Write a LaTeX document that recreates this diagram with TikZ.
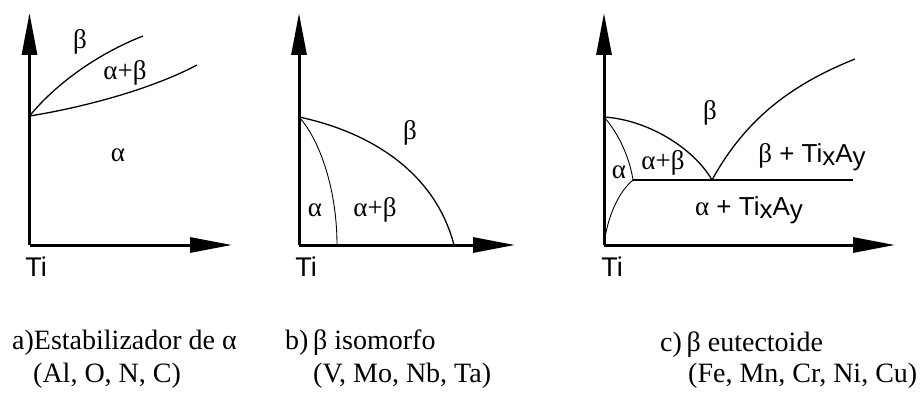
\documentclass[tikz,border=0pt]{standalone}
\usepackage{fontspec}
\setmainfont{Liberation Serif}
\newfontfamily\arialf{Liberation Sans}
\usetikzlibrary{arrows.meta}
\begin{document}
\begin{tikzpicture}[x=1pt,y=-1pt,
  axis/.style={line width=3pt,-{Triangle[length=42pt,width=15pt]}},
  curve/.style={line width=1.3pt},
  thincurve/.style={line width=0.9pt},
  lab/.style={inner sep=0pt,font=\fontsize{27}{27}\selectfont},
  tilab/.style={inner sep=0pt,font=\arialf\fontsize{27}{27}\selectfont},
  captext/.style={inner sep=0pt,anchor=west,font=\fontsize{28}{28}\selectfont}]
\useasboundingbox (0,0) rectangle (921,393);
\newcommand{\tixay}{Ti\raisebox{-3pt}{x}A\raisebox{-3pt}{y}}
% ---------- panel a ----------
\coordinate (aO) at (29.5,245);
\coordinate (aT) at (29.5,13);
\coordinate (aR) at (232,245);
\coordinate (aP) at (29.5,116);
\coordinate (aU) at (143,36);
\coordinate (aL) at (197,65);
\draw[axis] (aO) -- (aT);
\draw[axis] (aO) -- (aR);
\draw[curve] (aP) .. controls (55,85) and (95,55) .. (aU);
\draw[curve] (aP) .. controls (80,108) and (150,90) .. (aL);
\node[lab] (aBeta) at (80,42) {β};
\node[lab] (aAB) at (125,73) {α+β};
\node[lab] (aAlpha) at (118,155) {α};
\node[tilab] (aTi) at (36,267) {Ti};
% ---------- panel b ----------
\coordinate (bO) at (299,245);
\coordinate (bT) at (299,13);
\coordinate (bR) at (515,245);
\coordinate (bP) at (299,117);
\coordinate (bE) at (454,245);
\coordinate (bI) at (337,245);
\draw[axis] (bO) -- (bT);
\draw[axis] (bO) -- (bR);
\draw[curve] (bP) .. controls (370,132) and (435,172) .. (bE);
\draw[thincurve] (bP) .. controls (320,140) and (337,190) .. (bI);
\node[lab] (bBeta) at (410,133) {β};
\node[lab] (bAlpha) at (315,210) {α};
\node[lab] (bAB) at (375,210) {α+β};
\node[tilab] (bTi) at (306,267) {Ti};
% ---------- panel c ----------
\coordinate (cO) at (604,245);
\coordinate (cT) at (604,13);
\coordinate (cR) at (895,245);
\coordinate (cP) at (604,117);
\coordinate (cE) at (712,180);
\coordinate (cA) at (633,180);
\coordinate (cH) at (853,180);
\coordinate (cU) at (855,59);
\draw[axis] (cO) -- (cT);
\draw[axis] (cO) -- (cR);
\draw[curve] (cP) .. controls (650,120) and (695,150) .. (cE);
\draw[thincurve] (cP) .. controls (620,135) and (630,160) .. (cA);
\draw[thincurve] (cA) .. controls (615,195) and (606,225) .. (cO);
\draw[curve] (cA) -- (cH);
\draw[curve] (cE) .. controls (745,120) and (790,85) .. (cU);
\node[lab] (cBeta) at (710,113) {β};
\node[lab] (cAB) at (663,163) {α+β};
\node[lab] (cAlpha) at (619,172) {α};
\node[lab] (cBT) at (812,157) {β{\arialf\fontsize{26}{26}\selectfont{} + \tixay}};
\node[lab] (cAT) at (749,210) {α{\arialf\fontsize{26}{26}\selectfont{} + \tixay}};
\node[tilab] (cTi) at (612,267) {Ti};
% ---------- captions ----------
\node[captext] (capa1) at (12,343) {a)Estabilizador de α};
\node[captext] (capa2) at (33,376) {(Al, O, N, C)};
\node[captext] (capb1) at (285,343) {b)\,β isomorfo};
\node[captext] (capb2) at (313,376) {(V, Mo, Nb, Ta)};
\node[captext] (capc1) at (660,345) {c)\,β eutectoide};
\node[captext] (capc2) at (688,376) {(Fe, Mn, Cr, Ni, Cu)};
\end{tikzpicture}
\end{document}
